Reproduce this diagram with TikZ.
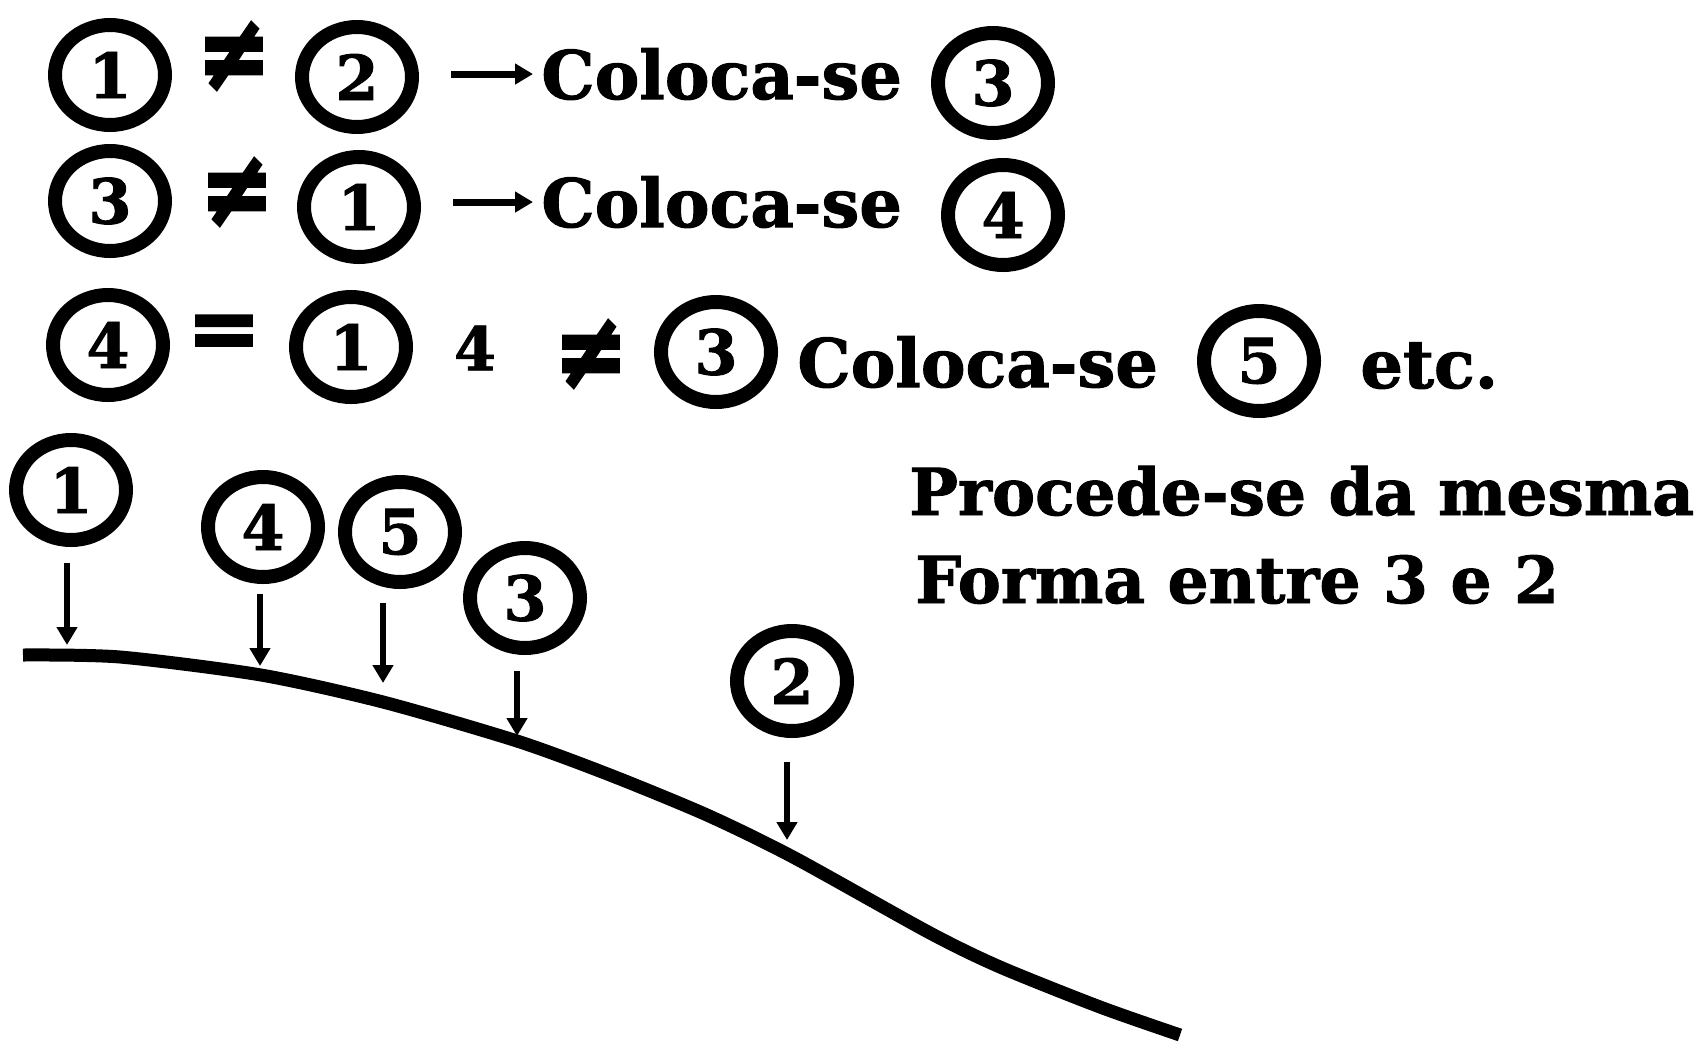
\documentclass[tikz,border=0pt]{standalone}
\usepackage{fontspec}
\setmainfont{DejaVu Serif}[BoldFeatures={FakeBold=1.5}]
\newfontfamily\symf{DejaVu Sans}[FakeBold=3]
\usetikzlibrary{shapes.geometric,arrows.meta,calc}
\begin{document}
\begin{tikzpicture}[x=0.5pt,y=-0.5pt,
 circ/.style={ellipse,draw,line width=7pt,minimum width=55pt,minimum height=50pt,inner sep=0pt,font=\fontsize{31}{31}\selectfont\bfseries},
 word/.style={anchor=base west,inner sep=0pt,font=\fontsize{33.5}{34}\selectfont\bfseries},
 note/.style={anchor=base west,inner sep=0pt,font=\fontsize{32.3}{34}\selectfont\bfseries},
 rel/.style={inner sep=0pt,font=\fontsize{44}{44}\selectfont\symf\bfseries},
 rarr/.style={line width=3.5pt,-{Triangle[length=9pt,width=10pt]}},
 darr/.style={line width=3pt,-{Triangle[length=9pt,width=10pt]}},
 ground/.style={line width=6.5pt}]
\useasboundingbox (0,0) rectangle (1707,1050);
% row 1
\node[circ] (r1a) at (110,75) {1};
\node[rel] (ne1) at (234,56) {\scalebox{1}[1.2]{≠}};
\node[circ] (r1b) at (357,77) {2};
\node[word] (col1) at (541,99) {Coloca-se};
\node[circ] (r1c) at (993,83) {3};
\draw[rarr,shorten <=16pt,shorten >=4pt] (r1b.east |- col1.west) -- (col1.west);
% row 2
\node[circ] (r2a) at (110,201) {3};
\node[rel] (ne2) at (237,192) {\scalebox{1}[1.2]{≠}};
\node[circ] (r2b) at (359,207) {1};
\node[word] (col2) at (541,227) {Coloca-se};
\node[circ] (r2c) at (1003,215) {4};
\draw[rarr,shorten <=16pt,shorten >=4pt] (r2b.east |- col2.west) -- (col2.west);
% row 3
\node[circ] (r3a) at (108,345) {4};
\node[rel] (eq) at (224,337) {=};
\node[circ] (r3b) at (351,347) {1};
\node[inner sep=0pt,font=\fontsize{30}{30}\selectfont\bfseries] (four) at (475,348) {4};
\node[rel] (ne3) at (591,354) {\scalebox{1}[1.2]{≠}};
\node[circ] (r3c) at (716,352) {3};
\node[word] (col3) at (797,387) {Coloca-se};
\node[circ] (r3d) at (1259,361) {5};
\node[word] (etc) at (1360,388) {etc.};
% note
\node[note] (p1) at (909,515) {Procede-se da mesma};
\node[note] (p2) at (915,603) {Forma entre 3 e 2};
% profile
\draw[ground] plot[smooth,tension=0.45] coordinates {(23,655) (120,657) (261,675) (383,702) (517,741) (610,775) (707,815) (793,857) (930,933) (1000,967) (1100,1007) (1180,1035)};
\node[circ] (b1) at (71,490) {1};
\node[circ] (b4) at (263,527) {4};
\node[circ] (b5) at (400,532) {5};
\node[circ] (b3) at (525,598) {3};
\node[circ] (b2) at (792,681) {2};
\coordinate (t1) at (67,645);
\coordinate (t4) at (260,666);
\coordinate (t5) at (383,683);
\coordinate (t3) at (517,736);
\coordinate (t2) at (787,840);
\draw[darr,shorten <=8pt] (b1.south -| t1) -- (t1);
\draw[darr,shorten <=5pt] (b4.south -| t4) -- (t4);
\draw[darr,shorten <=7pt] (b5.south -| t5) -- (t5);
\draw[darr,shorten <=8pt] (b3.south -| t3) -- (t3);
\draw[darr,shorten <=12pt] (b2.south -| t2) -- (t2);
\end{tikzpicture}
\end{document}
